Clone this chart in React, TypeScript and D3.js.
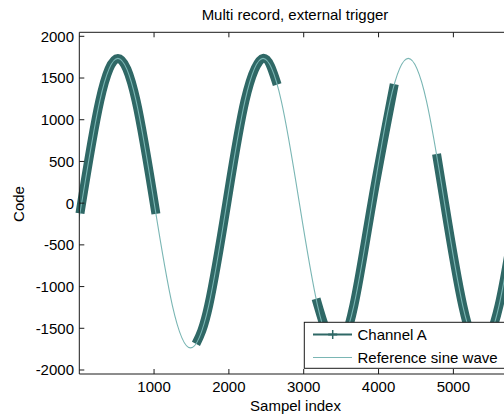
import React from "react";
import * as d3 from "d3";

// Reference sine wave, key points (sample index, code)
const refIndex = [-211, 32, 275, 517, 760, 1002, 1245, 1487, 1730, 1972, 2215, 2457, 2700, 2942, 3185, 3427, 3670, 3912, 4155, 4397, 4640, 4882, 5125, 5367, 5610, 5852, 6095, 6337];
const refCode = [-1227, 0, 1227, 1735, 1227, 0, -1227, -1735, -1227, 0, 1227, 1735, 1227, 0, -1227, -1735, -1227, 0, 1227, 1735, 1227, 0, -1227, -1735, -1227, 0, 1227, 1735];

// Channel A records: first and last sample (index, code)
const recordStart = [10, 1560, 3165, 4775];
const recordStartCode = [-123, -1687, -1147, 589];
const recordEnd = [1025, 2645, 4210, 5830];
const recordEndCode = [-129, 1420, 1426, -123];

const xTicks = [1000, 2000, 3000, 4000, 5000];
const yTicks = [-2000, -1500, -1000, -500, 0, 500, 1000, 1500, 2000];

const W = 504;
const H = 416;
const left = 79.3;
const right = 511;
const top = 32.3;
const bottom = 374;

const FONT = "'Liberation Sans', Arial, sans-serif";
const AX = "#1a1a1a";
const DARK = "#2f6866";
const LIGHT = "#7ab6b4";

export default function App() {
  const x = d3.scaleLinear().domain([1, 5770]).range([left, right]);
  const y = d3.scaleLinear().domain([-2048, 2048]).range([bottom, top]);
  const pts: [number, number][] = refIndex.map((t, i) => [t, refCode[i]]);
  const line = d3
    .line<[number, number]>()
    .x((d) => x(d[0]))
    .y((d) => y(d[1]))
    .curve(d3.curveNatural);
  const path = line(pts) || "";

  const recPaths = recordStart.map((s, i) => {
    const e = recordEnd[i];
    const inner = pts.filter((p) => p[0] > s + 100 && p[0] < e - 100);
    const p: [number, number][] = [[s, recordStartCode[i]], ...inner, [e, recordEndCode[i]]];
    return line(p) || "";
  });

  return (
    <svg
      width={W}
      height={H}
      style={{ position: "absolute", left: 0, top: 0, background: "#fff" }}
      fontFamily={FONT}
    >
      <defs>
        <clipPath id="plot">
          <rect x={left} y={top} width={right - left} height={bottom - top} />
        </clipPath>
      </defs>
      <rect x={0} y={0} width={W} height={H} fill="#fff" />

      {/* Channel A records */}
      {recPaths.map((d, i) => (
        <path
          key={i}
          d={d}
          fill="none"
          stroke={DARK}
          strokeWidth={9}
          strokeLinecap="butt"
        />
      ))}
      {/* Reference sine wave */}
      <g clipPath="url(#plot)">
        <path d={path} fill="none" stroke={LIGHT} strokeWidth={1.1} />
      </g>

      {/* Axes box */}
      <line x1={left} x2={W + 10} y1={top} y2={top} stroke={AX} strokeWidth={1} />
      <line x1={left} x2={W + 10} y1={bottom} y2={bottom} stroke={AX} strokeWidth={1} />
      <line x1={left} x2={left} y1={top} y2={bottom} stroke={AX} strokeWidth={1} />

      {xTicks.map((t) => (
        <g key={t}>
          <line x1={x(t)} x2={x(t)} y1={bottom} y2={bottom - 5} stroke={AX} />
          <line x1={x(t)} x2={x(t)} y1={top} y2={top + 5} stroke={AX} />
          <text x={x(t)} y={392} textAnchor="middle" fontSize={15} fill="#000">
            {t}
          </text>
        </g>
      ))}
      {yTicks.map((t) => (
        <g key={t}>
          <line x1={left} x2={left + 5} y1={y(t)} y2={y(t)} stroke={AX} />
          <text x={74} y={y(t)} dy="0.36em" textAnchor="end" fontSize={15} fill="#000">
            {t}
          </text>
        </g>
      ))}

      {/* Legend */}
      <rect x={304.3} y={322.3} width={230} height={46} fill="#fff" stroke={AX} strokeWidth={1} />
      <line x1={313} x2={352} y1={334.5} y2={334.5} stroke={DARK} strokeWidth={2} />
      <line x1={332.7} x2={332.7} y1={330} y2={339} stroke={DARK} strokeWidth={1.5} />
      <line x1={328.2} x2={337.2} y1={334.5} y2={334.5} stroke={DARK} strokeWidth={2} />
      <text x={357.5} y={334.5} dy="0.36em" fontSize={15} fill="#000">
        Channel A
      </text>
      <line x1={313} x2={352} y1={357.5} y2={357.5} stroke={LIGHT} strokeWidth={1.1} />
      <text x={357.5} y={357.5} dy="0.36em" fontSize={15} fill="#000">
        Reference sine wave
      </text>

      {/* Labels */}
      <text x={295} y={20} textAnchor="middle" fontSize={15} fill="#000">
        Multi record, external trigger
      </text>
      <text x={295.5} y={411} textAnchor="middle" fontSize={15} fill="#000">
        Sampel index
      </text>
      <text
        transform="translate(24,204) rotate(-90)"
        textAnchor="middle"
        fontSize={15}
        fill="#000"
      >
        Code
      </text>
    </svg>
  );
}
